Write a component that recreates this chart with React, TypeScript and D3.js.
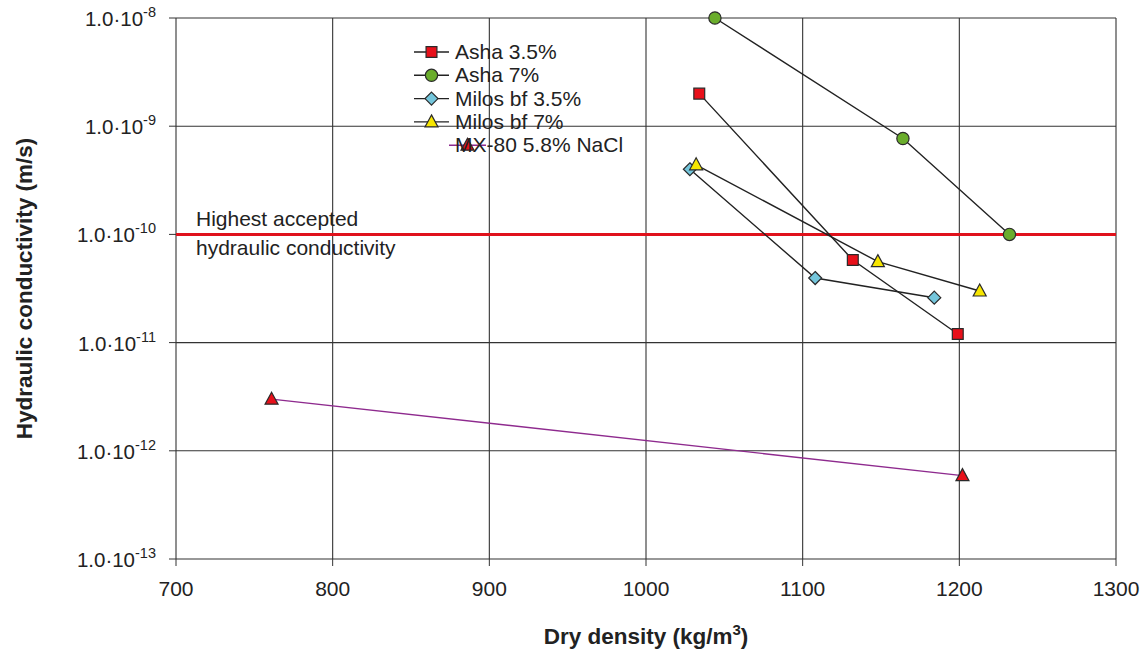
import React, { useEffect, useRef } from 'react';
import * as d3 from 'd3';

// Data
const ashaLow = [
  { x: 1034, y: 2.0e-9 },
  { x: 1132, y: 5.8e-11 },
  { x: 1199, y: 1.2e-11 },
];
const ashaHigh = [
  { x: 1044, y: 1.0e-8 },
  { x: 1164, y: 7.7e-10 },
  { x: 1232, y: 1.0e-10 },
];
const milosLow = [
  { x: 1028, y: 4.0e-10 },
  { x: 1108, y: 3.95e-11 },
  { x: 1184, y: 2.6e-11 },
];
const milosHigh = [
  { x: 1032, y: 4.4e-10 },
  { x: 1148, y: 5.6e-11 },
  { x: 1213, y: 3.0e-11 },
];
const mx80 = [
  { x: 761, y: 3.0e-12 },
  { x: 1202, y: 5.9e-13 },
];

const xTicks = [700, 800, 900, 1000, 1100, 1200, 1300];
const yExponents = [-8, -9, -10, -11, -12, -13];
const limitValue = 1e-10;

type Shape = 'square' | 'circle' | 'diamond' | 'triangle';

interface Series {
  label: string;
  data: { x: number; y: number }[];
  shape: Shape;
  fill: string;
  line: string;
}

const series: Series[] = [
  { label: 'Asha 3.5%', data: ashaLow, shape: 'square', fill: '#e8101a', line: '#222' },
  { label: 'Asha 7%', data: ashaHigh, shape: 'circle', fill: '#6aad2c', line: '#222' },
  { label: 'Milos bf 3.5%', data: milosLow, shape: 'diamond', fill: '#74c6dc', line: '#222' },
  { label: 'Milos bf 7%', data: milosHigh, shape: 'triangle', fill: '#f7e600', line: '#222' },
  { label: 'MX-80 5.8% NaCl', data: mx80, shape: 'triangle', fill: '#e8101a', line: '#8e2a8e' },
];

const symbolPath = (shape: Shape) => {
  if (shape === 'square') return d3.symbol(d3.symbolSquare, 118)();
  if (shape === 'circle') return d3.symbol(d3.symbolCircle, 118)();
  if (shape === 'diamond') return 'M0,-6.5L6.5,0L0,6.5L-6.5,0Z';
  return 'M0,-7L6.5,5L-6.5,5Z';
};

const Chart: React.FC = () => {
  const svgRef = useRef<SVGSVGElement>(null);
  const width = 1143;
  const height = 652;

  useEffect(() => {
    if (!svgRef.current) return;
    const svg = d3.select(svgRef.current);
    svg.selectAll('*').remove();

    const margin = { top: 18, right: 27, bottom: 93, left: 176 };
    const innerWidth = width - margin.left - margin.right;
    const innerHeight = height - margin.top - margin.bottom;

    const xScale = d3.scaleLinear().domain([700, 1300]).range([0, innerWidth]);
    const yScale = d3.scaleLog().domain([1e-13, 1e-8]).range([innerHeight, 0]);

    const g = svg.append('g').attr('transform', `translate(${margin.left},${margin.top})`);
    const font = 'Liberation Sans, Arial, sans-serif';

    // grid
    g.selectAll('.hgrid')
      .data(yExponents)
      .enter()
      .append('line')
      .attr('x1', 0)
      .attr('x2', innerWidth)
      .attr('y1', (d) => yScale(Math.pow(10, d)))
      .attr('y2', (d) => yScale(Math.pow(10, d)))
      .attr('stroke', '#333')
      .attr('stroke-width', 1.1);

    g.selectAll('.vgrid')
      .data(xTicks)
      .enter()
      .append('line')
      .attr('x1', (d) => xScale(d))
      .attr('x2', (d) => xScale(d))
      .attr('y1', 0)
      .attr('y2', innerHeight)
      .attr('stroke', '#333')
      .attr('stroke-width', 1.1);

    // ticks
    g.selectAll('.ytick')
      .data(yExponents)
      .enter()
      .append('line')
      .attr('x1', -7)
      .attr('x2', 0)
      .attr('y1', (d) => yScale(Math.pow(10, d)))
      .attr('y2', (d) => yScale(Math.pow(10, d)))
      .attr('stroke', '#333');

    g.selectAll('.xtick')
      .data(xTicks)
      .enter()
      .append('line')
      .attr('x1', (d) => xScale(d))
      .attr('x2', (d) => xScale(d))
      .attr('y1', innerHeight)
      .attr('y2', innerHeight + 7)
      .attr('stroke', '#333');

    // y tick labels
    const yLabels = g
      .selectAll('.ylabel')
      .data(yExponents)
      .enter()
      .append('text')
      .attr('x', -20)
      .attr('y', (d) => yScale(Math.pow(10, d)) + 8)
      .attr('text-anchor', 'end')
      .style('font-family', font)
      .style('font-size', '20.5px')
      .style('fill', '#222');
    yLabels.append('tspan').text('1.0·10');
    yLabels
      .append('tspan')
      .attr('dy', -9)
      .style('font-size', '14.5px')
      .text((d) => `${d}`);

    // x tick labels
    g.selectAll('.xlabel')
      .data(xTicks)
      .enter()
      .append('text')
      .attr('x', (d) => xScale(d))
      .attr('y', innerHeight + 37)
      .attr('text-anchor', 'middle')
      .style('font-family', font)
      .style('font-size', '21px')
      .style('fill', '#222')
      .text((d) => d);

    // limit line
    g.append('line')
      .attr('x1', 0)
      .attr('x2', innerWidth)
      .attr('y1', yScale(limitValue))
      .attr('y2', yScale(limitValue))
      .attr('stroke', '#e0121c')
      .attr('stroke-width', 3);

    g.append('text')
      .attr('x', 20)
      .attr('y', yScale(limitValue) - 8)
      .style('font-family', font)
      .style('font-size', '21px')
      .style('fill', '#222')
      .text('Highest accepted');
    g.append('text')
      .attr('x', 20)
      .attr('y', yScale(limitValue) + 21)
      .style('font-family', font)
      .style('font-size', '21px')
      .style('fill', '#222')
      .text('hydraulic conductivity');

    // series
    const line = d3
      .line<{ x: number; y: number }>()
      .x((d) => xScale(d.x))
      .y((d) => yScale(d.y));

    series.forEach((s) => {
      g.append('path')
        .datum(s.data)
        .attr('d', line)
        .attr('fill', 'none')
        .attr('stroke', s.line)
        .attr('stroke-width', 1.4);
    });

    series.forEach((s) => {
      g.selectAll(null)
        .data(s.data)
        .enter()
        .append('path')
        .attr('transform', (d) => `translate(${xScale(d.x)},${yScale(d.y)})`)
        .attr('d', symbolPath(s.shape))
        .attr('fill', s.fill)
        .attr('stroke', '#2a2a2a')
        .attr('stroke-width', 1.2);
    });

    // legend
    const legend = svg.append('g').attr('transform', 'translate(414, 52)');
    series.forEach((s, i) => {
      const item = legend.append('g').attr('transform', `translate(0, ${i * 23.3})`);
      const isLast = i === series.length - 1;
      const x1 = isLast ? 35 : 0;
      const x2 = isLast ? 72 : 35;
      item
        .append('line')
        .attr('x1', x1)
        .attr('x2', x2)
        .attr('stroke', s.line)
        .attr('stroke-width', 1.4);
      item
        .append('path')
        .attr('transform', `translate(${(x1 + x2) / 2},0)`)
        .attr('d', symbolPath(s.shape))
        .attr('fill', s.fill)
        .attr('stroke', '#2a2a2a')
        .attr('stroke-width', 1.2);
      item
        .append('text')
        .attr('x', 41)
        .attr('y', 7)
        .style('font-family', font)
        .style('font-size', '21px')
        .style('fill', '#222')
        .text(s.label);
    });

    // axis titles
    const xTitle = svg
      .append('text')
      .attr('x', margin.left + innerWidth / 2)
      .attr('y', 644)
      .attr('text-anchor', 'middle')
      .style('font-family', font)
      .style('font-size', '22.5px')
      .style('font-weight', '700')
      .style('fill', '#222');
    xTitle.append('tspan').text('Dry density (kg/m');
    xTitle.append('tspan').attr('dy', -9).style('font-size', '15px').text('3');
    xTitle.append('tspan').attr('dy', 9).text(')');

    svg
      .append('text')
      .attr('transform', `translate(32, ${margin.top + innerHeight / 2}) rotate(-90)`)
      .attr('text-anchor', 'middle')
      .style('font-family', font)
      .style('font-size', '22.5px')
      .style('font-weight', '700')
      .style('fill', '#222')
      .text('Hydraulic conductivity (m/s)');
  }, []);

  return <svg ref={svgRef} width={width} height={height} style={{ display: 'block', background: '#fff' }} />;
};

export default function App() {
  return (
    <div style={{ position: 'absolute', left: 0, top: 0 }}>
      <Chart />
    </div>
  );
}
